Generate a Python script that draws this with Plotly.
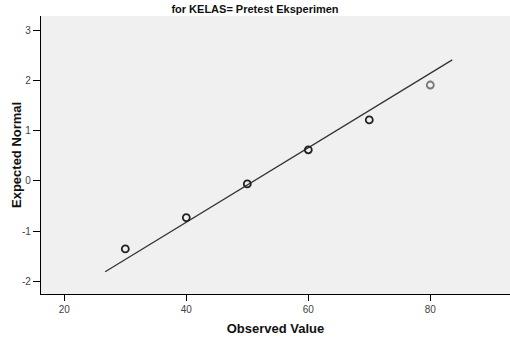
import plotly.graph_objects as go

observed = [30, 40, 50, 60, 70, 80]
expected = [-1.355, -0.73, -0.06, 0.62, 1.215, 1.91]
marker_colors = ["#222222", "#222222", "#222222", "#222222", "#222222", "#777777"]
line_x = [26.7, 83.6]
line_y = [-1.81, 2.41]
x_ticks = [20, 40, 60, 80]
y_ticks = [-2, -1, 0, 1, 2, 3]
y_tick_labels = ["-2", "-1", "0", "1", "2", "3"]

fig = go.Figure()
fig.add_trace(go.Scatter(x=line_x, y=line_y, mode="lines",
                         line=dict(color="#333333", width=1.3), showlegend=False))
fig.add_trace(go.Scatter(x=observed, y=expected, mode="markers",
                         marker=dict(symbol="circle-open", size=7, color=marker_colors,
                                     line=dict(width=1.8, color=marker_colors)),
                         showlegend=False))

fig.update_layout(
    width=510, height=339,
    margin=dict(l=41, r=0, t=16, b=45),
    paper_bgcolor="white", plot_bgcolor="#F0F0F0",
    font=dict(family="Arial, Liberation Sans, sans-serif", color="#333333"),
    title=dict(text="<b>for KELAS= Pretest Eksperimen</b>", x=0.5, xanchor="center",
               xref="container",
               y=1 - 9 / 339, yanchor="middle", font=dict(size=11, color="#111111")),
    xaxis=dict(range=[16.18, 93.07], tickvals=x_ticks, ticks="outside", ticklen=6,
               tickcolor="black", showline=True, linecolor="black", linewidth=1.3,
               showgrid=False, zeroline=False, tickfont=dict(size=10, color="#444444"),
               title=dict(text="<b>Observed Value</b>", font=dict(size=13, color="#111111"),
                          standoff=9)),
    yaxis=dict(range=[-2.253, 3.285], tickvals=y_ticks, ticktext=y_tick_labels,
               ticks="outside", ticklen=7, ticklabelstandoff=0,
               tickcolor="black", showline=True, linecolor="black", linewidth=1.3,
               showgrid=False, zeroline=False, tickfont=dict(size=10, color="#444444")),
    annotations=[dict(text="<b>Expected Normal</b>", xref="paper", yref="paper",
                      x=-(41 - 16) / 469, y=0.5, xanchor="center", yanchor="middle",
                      textangle=-90, showarrow=False,
                      font=dict(size=13, color="#111111"))],
)
fig.write_html("out.html")
